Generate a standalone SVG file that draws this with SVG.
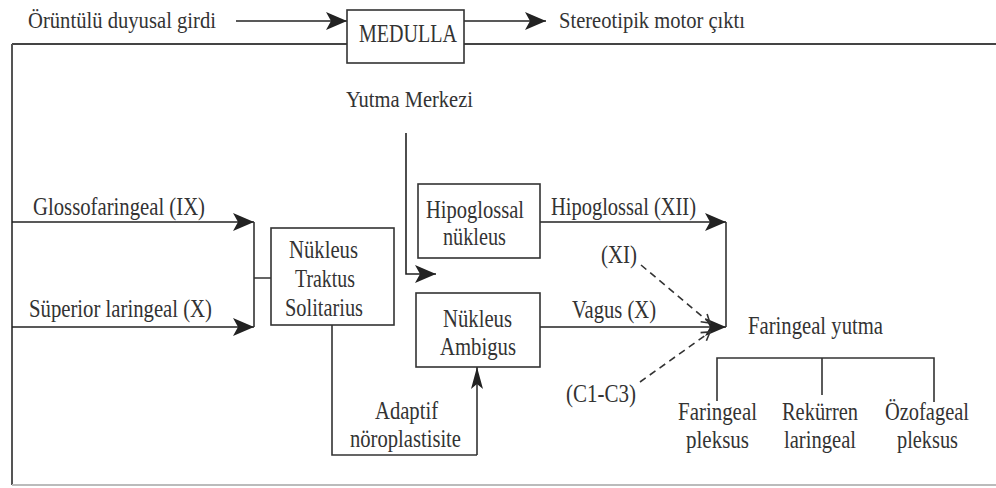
<svg xmlns="http://www.w3.org/2000/svg" width="996" height="488" viewBox="0 0 996 488">
  <defs>
    <style>
      .t { font-family: "Liberation Serif", "Times New Roman", serif; font-size: 25px; fill: #333; }
      .ts { font-size: 24px; }
      .box { fill: #fff; stroke: #333; stroke-width: 1.6; }
      .ln { fill: none; stroke: #333; stroke-width: 1.6; }
      .arr { fill: none; stroke: #222; stroke-width: 1.6; marker-end: url(#ah); }
      .dash { fill: none; stroke: #333; stroke-width: 1.6; stroke-dasharray: 7 5; marker-end: url(#chev); }
    </style>
    <marker id="ah" viewBox="0 -9 21 18" refX="21" refY="0" markerWidth="21" markerHeight="18" markerUnits="userSpaceOnUse" orient="auto">
      <path d="M0,-9 L21,0 L0,9 L5,0 z" fill="#222"/>
    </marker>
    <marker id="ahn" viewBox="0 -6 22 12" refX="22" refY="0" markerWidth="22" markerHeight="12" markerUnits="userSpaceOnUse" orient="auto">
      <path d="M0,-6 L22,0 L0,6 L5,0 z" fill="#222"/>
    </marker>
    <marker id="chev" viewBox="-1 -6 10 12" refX="8" refY="0" markerWidth="10" markerHeight="12" markerUnits="userSpaceOnUse" orient="auto">
      <path d="M0,-5 L8,0 L0,5" fill="none" stroke="#333" stroke-width="1.6"/>
    </marker>
  </defs>
  <rect width="996" height="488" fill="#fff"/>

  <!-- outer frame of the swallowing centre -->
  <g id="frame">
    <path d="M12,44 H996" stroke="#444" stroke-width="2" fill="none"/>
    <path d="M12,44 V485" stroke="#555" stroke-width="2" fill="none"/>
    <path d="M12,485 H996" stroke="#bbb" stroke-width="2" fill="none"/>
  </g>

  <!-- connectors -->
  <g id="connectors">
    <path class="arr" d="M236,21 H347"/>
    <path class="arr" d="M464,21 H546"/>
    <path class="arr" d="M12,222 H254"/>
    <path class="arr" d="M12,327 H254"/>
    <path class="ln" d="M254,222 V327 M254,278 H271"/>
    <path class="arr" d="M406,133 V274 H436"/>
    <path class="ln" d="M332,325 V455 H477"/>
    <path class="ln" d="M477,455 V367" marker-end="url(#ahn)"/>
    <path class="arr" d="M540,222 H726"/>
    <path class="arr" d="M540,327 H726"/>
    <path class="ln" d="M726,222 V327"/>
    <path class="dash" d="M641,265 L710,323"/>
    <path class="dash" d="M640,382 L710,332"/>
    <path class="ln" d="M717,401 V358 H934 V402 M822,358 V395"/>
  </g>

  <g id="input">
    <text class="t ts" x="28" y="28" textLength="188" lengthAdjust="spacingAndGlyphs">Örüntülü duyusal girdi</text>
  </g>
  <g id="medulla">
    <rect class="box" x="347" y="10" width="117" height="53"/>
    <text class="t" x="359" y="42" textLength="98" lengthAdjust="spacingAndGlyphs">MEDULLA</text>
  </g>
  <g id="output">
    <text class="t ts" x="559" y="28" textLength="186" lengthAdjust="spacingAndGlyphs">Stereotipik motor çıktı</text>
  </g>
  <g id="yutma-merkezi">
    <text class="t ts" x="346" y="107" textLength="127" lengthAdjust="spacingAndGlyphs">Yutma Merkezi</text>
  </g>

  <g id="glossofaringeal">
    <text class="t" x="33" y="215" textLength="172" lengthAdjust="spacingAndGlyphs">Glossofaringeal (IX)</text>
  </g>
  <g id="superior-laringeal">
    <text class="t" x="29" y="317" textLength="183" lengthAdjust="spacingAndGlyphs">Süperior laringeal (X)</text>
  </g>

  <g id="nts">
    <rect class="box" x="271" y="228" width="123" height="97"/>
    <text class="t" x="289" y="258" textLength="69" lengthAdjust="spacingAndGlyphs">Nükleus</text>
    <text class="t" x="295" y="287" textLength="60" lengthAdjust="spacingAndGlyphs">Traktus</text>
    <text class="t" x="285" y="316" textLength="78" lengthAdjust="spacingAndGlyphs">Solitarius</text>
  </g>

  <g id="hipoglossal-nukleus">
    <rect class="box" x="418" y="184" width="122" height="74"/>
    <text class="t" x="426" y="218" textLength="98" lengthAdjust="spacingAndGlyphs">Hipoglossal</text>
    <text class="t" x="443" y="245" textLength="63" lengthAdjust="spacingAndGlyphs">nükleus</text>
  </g>

  <g id="nukleus-ambigus">
    <rect class="box" x="416" y="293" width="124" height="74"/>
    <text class="t" x="443" y="327" textLength="69" lengthAdjust="spacingAndGlyphs">Nükleus</text>
    <text class="t" x="440" y="355" textLength="76" lengthAdjust="spacingAndGlyphs">Ambigus</text>
  </g>

  <g id="adaptif">
    <text class="t" x="375" y="419" textLength="63" lengthAdjust="spacingAndGlyphs">Adaptif</text>
    <text class="t" x="350" y="447" textLength="111" lengthAdjust="spacingAndGlyphs">nöroplastisite</text>
  </g>

  <g id="nerve-labels">
    <text class="t" x="551" y="215" textLength="145" lengthAdjust="spacingAndGlyphs">Hipoglossal (XII)</text>
    <text class="t" x="601" y="263" textLength="36" lengthAdjust="spacingAndGlyphs">(XI)</text>
    <text class="t" x="572" y="318" textLength="84" lengthAdjust="spacingAndGlyphs">Vagus (X)</text>
    <text class="t" x="566" y="402" textLength="70" lengthAdjust="spacingAndGlyphs">(C1-C3)</text>
  </g>

  <g id="faringeal-yutma">
    <text class="t" x="748" y="334" textLength="135" lengthAdjust="spacingAndGlyphs">Faringeal yutma</text>
  </g>

  <g id="faringeal-pleksus">
    <text class="t" x="678" y="420" textLength="79" lengthAdjust="spacingAndGlyphs">Faringeal</text>
    <text class="t" x="686" y="448" textLength="63" lengthAdjust="spacingAndGlyphs">pleksus</text>
  </g>
  <g id="rekurren-laringeal">
    <text class="t" x="782" y="420" textLength="76" lengthAdjust="spacingAndGlyphs">Rekürren</text>
    <text class="t" x="784" y="448" textLength="72" lengthAdjust="spacingAndGlyphs">laringeal</text>
  </g>
  <g id="ozofageal-pleksus">
    <text class="t" x="885" y="420" textLength="84" lengthAdjust="spacingAndGlyphs">Özofageal</text>
    <text class="t" x="897" y="448" textLength="61" lengthAdjust="spacingAndGlyphs">pleksus</text>
  </g>
</svg>
